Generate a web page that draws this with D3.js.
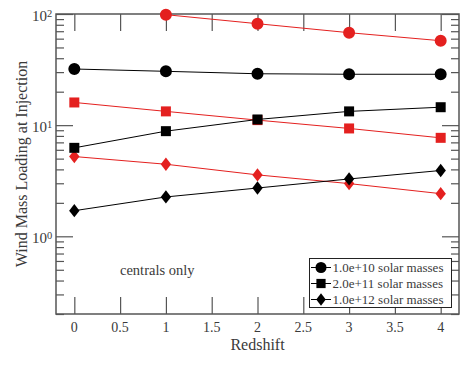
<!DOCTYPE html>
<html>
<head>
<meta charset="utf-8">
<script src="https://cdn.jsdelivr.net/npm/d3@7"></script>
<style>
  body { margin: 0; background: #fff; }
</style>
</head>
<body>
<svg id="chart" width="474" height="366" font-family="'Liberation Serif', 'Times New Roman', Times, serif"></svg>
<script>
// values
const redshift = [0, 1, 2, 3, 4];
const blackCircles = [32.0, 30.5, 29.0, 28.7, 28.7];
const redCircles = [null, 98.6, 81.8, 67.9, 57.5];
const blackSquares = [6.25, 8.83, 11.25, 13.3, 14.5];
const redSquares = [16.0, 13.3, 11.1, 9.34, 7.69];
const blackDiamonds = [1.70, 2.26, 2.72, 3.28, 3.91];
const redDiamonds = [5.22, 4.45, 3.57, 2.98, 2.42];
const xTicks = [0, 0.5, 1, 1.5, 2, 2.5, 3, 3.5, 4];
const legendLabels = ['1.0e+10 solar masses', '2.0e+11 solar masses', '1.0e+12 solar masses'];

const RED = '#e4201f', BLACK = '#000', INK = '#3a3a3a';
const pLeft = 56, pTop = 14, pRight = 459, pBottom = 314;

const svg = d3.select('#chart');
const x = d3.scaleLinear().domain([-0.2, 4.2]).range([pLeft, pRight]);
const y = d3.scaleLog().domain([0.2, 100]).range([pBottom, pTop]);

// custom diamond, taller than wide
const diamond = {
    draw(ctx, size) {
        const h = Math.sqrt(size) * 0.62, w = h * 0.78;
        ctx.moveTo(0, -h); ctx.lineTo(w, 0); ctx.lineTo(0, h); ctx.lineTo(-w, 0); ctx.closePath();
    }
};
const shapes = { circle: d3.symbolCircle, square: d3.symbolSquare, diamond: diamond };
const sizes = { circle: 113, square: 100, diamond: 115 };

const series = [
    { values: redCircles, color: RED, shape: 'circle' },
    { values: redSquares, color: RED, shape: 'square' },
    { values: redDiamonds, color: RED, shape: 'diamond' },
    { values: blackCircles, color: BLACK, shape: 'circle' },
    { values: blackSquares, color: BLACK, shape: 'square' },
    { values: blackDiamonds, color: BLACK, shape: 'diamond' }
];

// axes (ticks pointing inward on all four sides)
const frame = '#555';
const yTicks = y.ticks();
const isMajor = v => Math.abs(Math.log10(v) - Math.round(Math.log10(v))) < 1e-6;

const axisL = svg.append('g').attr('transform', `translate(${pLeft},0)`)
    .call(d3.axisRight(y).tickValues(yTicks).tickFormat('').tickSizeOuter(0));
const axisR = svg.append('g').attr('transform', `translate(${pRight},0)`)
    .call(d3.axisLeft(y).tickValues(yTicks).tickFormat('').tickSizeOuter(0));
[axisL, axisR].forEach(g => g.selectAll('.tick line')
    .attr('x2', d => (g === axisL ? 1 : -1) * (isMajor(d) ? 17 : 8)));

svg.append('g').attr('transform', `translate(0,${pBottom})`)
    .call(d3.axisTop(x).tickValues(xTicks).tickFormat('').tickSize(17).tickSizeOuter(0));
svg.append('g').attr('transform', `translate(0,${pTop})`)
    .call(d3.axisBottom(x).tickValues(xTicks).tickFormat('').tickSize(17).tickSizeOuter(0));

svg.selectAll('.domain').remove();
svg.selectAll('.tick line').attr('stroke', frame).attr('stroke-width', 1.2);
svg.append('rect').attr('x', pLeft).attr('y', pTop)
    .attr('width', pRight - pLeft).attr('height', pBottom - pTop)
    .attr('fill', 'none').attr('stroke', frame).attr('stroke-width', 1.5);

// x tick labels
svg.append('g').selectAll('text').data(xTicks).join('text')
    .attr('x', d => x(d)).attr('y', pBottom + 18)
    .attr('text-anchor', 'middle').attr('font-size', 14).attr('fill', INK)
    .text(d => d);

// y tick labels 10^n
const decades = yTicks.filter(isMajor);
const yl = svg.append('g').attr('fill', INK).selectAll('g').data(decades).join('g');
yl.append('text').attr('x', 47).attr('y', d => y(d) + 7)
    .attr('text-anchor', 'end').attr('font-size', 15).text('10');
yl.append('text').attr('x', 47).attr('y', d => y(d) + 3)
    .attr('font-size', 10.5).text(d => Math.round(Math.log10(d)));

// axis titles
svg.append('text').attr('x', (pLeft + pRight) / 2).attr('y', 350).attr('fill', INK)
    .attr('text-anchor', 'middle').attr('font-size', 16).text('Redshift');
svg.append('text').attr('transform', `translate(27,${(pTop + pBottom) / 2}) rotate(-90)`)
    .attr('fill', INK).attr('text-anchor', 'middle').attr('font-size', 16)
    .text('Wind Mass Loading at Injection');

// lines and markers
const line = d3.line().defined(d => d.v != null).x(d => x(d.z)).y(d => y(d.v));
series.forEach(s => {
    const pts = redshift.map((z, i) => ({ z: z, v: s.values[i] }));
    svg.append('path').datum(pts).attr('d', line)
        .attr('fill', 'none').attr('stroke', s.color).attr('stroke-width', 1);
    svg.append('g').selectAll('path').data(pts.filter(p => p.v != null)).join('path')
        .attr('transform', p => `translate(${x(p.z)},${y(p.v)})`)
        .attr('d', d3.symbol(shapes[s.shape], sizes[s.shape]))
        .attr('fill', s.color);
});

// annotation
svg.append('text').attr('x', 120).attr('y', 275).attr('fill', INK)
    .attr('font-size', 14.5).text('centrals only');

// legend
const lg = svg.append('g');
lg.append('rect').attr('x', 309.5).attr('y', 258.5).attr('width', 142).attr('height', 49)
    .attr('fill', '#fff').attr('stroke', '#222').attr('stroke-width', 1);
['circle', 'square', 'diamond'].forEach((sh, i) => {
    const cy = 267.5 + i * 16;
    lg.append('line').attr('x1', 311).attr('x2', 331).attr('y1', cy).attr('y2', cy)
        .attr('stroke', BLACK).attr('stroke-width', 1);
    lg.append('path').attr('transform', `translate(321,${cy})`)
        .attr('d', d3.symbol(shapes[sh], sizes[sh] * 0.85)).attr('fill', BLACK);
    lg.append('text').attr('x', 332.5).attr('y', cy + 4.5).attr('fill', INK)
        .attr('font-size', 13).text(legendLabels[i]);
});
</script>
</body>
</html>
